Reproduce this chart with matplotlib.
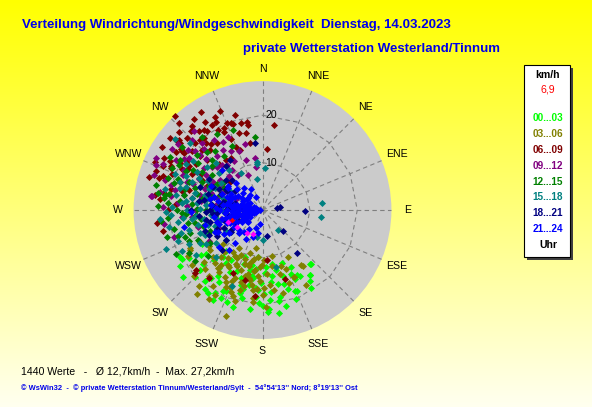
import numpy as np
import matplotlib
matplotlib.use("Agg")
import matplotlib.pyplot as plt
from matplotlib.patches import Circle, Rectangle

plt.rcParams['font.family'] = ['Liberation Sans', 'DejaVu Sans']

# wind direction (deg, from N clockwise) and speed (km/h)
dir_0003 = [239, 230, 216, 209, 205, 177, 166, 158, 144, 139, 160, 184, 196, 208, 217, 224, 188, 174,
            241, 217, 210, 138, 144, 157, 170, 180, 153, 192, 199, 186, 181, 172, 168, 163, 176, 202,
            212, 220, 228, 234, 225, 193, 187, 171, 150, 148, 162, 156, 197, 203, 214, 183, 178, 190,
            195, 206, 222, 175, 200, 185, 170, 246, 236, 240,
            146, 152, 159, 164, 169, 173, 179, 182, 189, 194, 198, 204, 211, 215, 219, 226, 232, 237,
            167, 185, 201, 213, 155, 176, 191]
spd_0003 = [19.9, 22.0, 20.5, 21.6, 20.5, 21.5, 20.9, 18.5, 17.0, 15.2, 11.9, 18.3, 16.4, 14.7, 15.4, 14.8, 14.5, 17.4,
            14.7, 18.0, 20.2, 15.3, 16.9, 18.5, 19.5, 20.2, 13.4, 13.0, 12.0, 12.5, 15.5, 14.0, 16.0, 14.5, 12.0, 17.5,
            12.5, 13.0, 17.0, 16.0, 20.0, 19.0, 21.0, 22.0, 16.0, 19.5, 17.5, 14.8, 21.5, 14.0, 16.8, 17.0, 13.2, 16.0,
            18.2, 19.0, 11.5, 19.0, 10.5, 10.0, 11.5, 12.5, 21.0, 20.0,
            18.0, 15.5, 20.0, 16.2, 18.8, 15.2, 17.8, 19.6, 14.2, 17.2, 15.0, 18.8, 17.8, 13.6, 19.2, 18.2, 15.2, 18.6,
            13.0, 16.5, 20.8, 21.0, 16.0, 21.0, 11.8]

dir_0306 = [189, 199, 218, 211, 242, 244, 241, 155, 150, 145, 151, 144, 155, 185, 192, 198, 204, 210,
            216, 222, 228, 233, 195, 188, 182, 176, 170, 165, 160, 172, 180, 187, 194, 201, 207, 213,
            219, 226, 232, 205, 212, 196, 178, 168, 174, 183, 190, 202, 208, 215, 223, 230, 236, 238,
            197, 186, 178, 162, 158, 166, 193, 200, 209, 220, 188, 184, 203, 243,
            181, 184, 187, 191, 194, 197, 200, 203, 206, 209, 212, 215, 218, 221, 224, 227, 179, 186,
            193, 199, 205, 211, 217, 190, 196]
spd_0306 = [8.2, 23.6, 22.4, 21.8, 17.3, 15.0, 17.5, 15.5, 18.3, 14.2, 11.3, 14.6, 15.6, 10.0, 11.0, 12.0, 13.0, 14.0,
            12.5, 15.0, 16.5, 14.0, 14.5, 13.0, 15.0, 13.5, 12.0, 14.0, 16.5, 17.0, 18.0, 17.0, 16.5, 18.5, 17.0, 19.0,
            18.0, 20.0, 19.0, 10.5, 9.5, 9.5, 10.5, 10.0, 16.0, 12.0, 15.0, 15.5, 11.5, 16.0, 12.0, 11.0, 13.5, 18.5,
            20.0, 19.5, 20.5, 12.5, 13.5, 18.0, 13.8, 11.0, 20.5, 21.0, 16.0, 14.0, 16.3, 14.8,
            11.5, 16.8, 12.8, 14.6, 11.8, 15.8, 13.4, 17.6, 12.6, 16.2, 13.8, 10.8, 15.4, 13.2, 17.4, 14.4, 16.4, 18.6,
            12.2, 19.2, 18.0, 11.4, 14.6, 10.4, 17.6]

dir_0609 = [317, 337, 329, 338, 341, 346, 350, 350, 348, 321, 324, 325, 331, 334, 308, 310, 309, 321,
            320, 304, 306, 306, 294, 298, 295, 290, 289, 288, 283, 289, 299, 312, 319, 317, 324, 329,
            339, 349, 337, 294, 263, 258, 8, 4, 320, 340, 309, 274, 296, 293, 296, 311, 315,
            228, 218, 194, 185, 175, 162, 205, 227,
            300, 305, 315, 285, 280, 300, 310, 326, 333, 343, 313, 302, 278, 270, 286, 297, 318, 328,
            292, 298, 303, 307, 311, 314, 318, 322, 327, 332, 336, 344, 301, 287, 283, 276, 297, 316, 323, 335]
spd_0609 = [27.0, 22.7, 20.8, 19.8, 19.3, 19.0, 18.9, 18.2, 16.6, 21.4, 20.9, 20.3, 19.2, 18.3, 24.8, 22.9, 22.3, 19.5,
            18.4, 22.0, 21.1, 20.6, 23.0, 22.0, 21.2, 23.8, 22.3, 21.4, 19.9, 18.4, 18.0, 15.8, 16.8, 13.4, 13.0, 12.7,
            13.5, 14.3, 14.5, 24.9, 22.5, 21.4, 18.1, 13.0, 23.1, 19.6, 23.4, 18.2, 21.4, 12.8, 14.3, 9.1, 20.0,
            19.0, 18.2, 15.2, 18.3, 10.6, 15.2, 14.6, 19.5,
            20.0, 17.0, 18.0, 16.0, 21.0, 15.0, 19.5, 17.0, 22.0, 17.0, 24.0, 25.0, 23.0, 20.0, 25.0, 19.0, 22.5, 24.5,
            20.5, 23.5, 19.0, 21.5, 17.5, 22.0, 19.8, 17.8, 22.2, 21.0, 16.4, 20.8, 18.2, 22.8, 17.4, 21.8, 16.8, 25.5,
            24.0, 19.0]

dir_0912 = [293, 277, 297, 345, 338, 338, 330, 311, 277, 253, 295, 352, 351, 285, 290, 300, 305, 310,
            315, 320, 325, 330, 300, 290, 280, 275, 270, 265, 260, 285, 295, 305, 315, 325, 280, 288,
            300, 308, 318, 322, 335, 342, 275, 268, 282, 292, 255, 248, 302, 312, 272, 283, 296, 288,
            278, 262, 258, 240,
            273, 279, 284, 287, 291, 294, 298, 303, 306, 309, 313, 316, 319, 323, 327, 332, 286, 299,
            311, 277, 264, 304, 296, 281, 318]
spd_0912 = [24.5, 23.4, 18.7, 14.5, 13.4, 8.0, 16.5, 17.6, 23.6, 19.6, 23.1, 11.1, 9.1, 20.0, 17.0, 16.0, 19.0, 14.0,
            21.0, 15.0, 18.0, 12.0, 12.0, 13.0, 15.0, 18.0, 14.0, 17.0, 12.0, 10.0, 9.0, 11.0, 10.0, 9.0, 22.0, 24.0,
            21.0, 22.5, 19.0, 12.0, 17.0, 11.0, 11.0, 8.0, 7.0, 6.0, 14.0, 10.0, 14.0, 16.0, 21.0, 19.0, 15.0, 11.5,
            13.0, 21.0, 9.0, 13.0,
            16.0, 19.5, 13.5, 21.5, 15.6, 18.4, 12.6, 19.8, 15.2, 20.2, 13.2, 17.8, 22.0, 10.6, 15.2, 14.0, 8.4, 9.8,
            19.0, 9.6, 15.0, 23.0, 25.0, 16.8, 12.8]

dir_1215 = [279, 329, 354, 321, 251, 233, 277, 300, 301, 252, 270, 275, 280, 285, 290, 295, 300, 305,
            310, 315, 320, 265, 260, 255, 245, 240, 285, 290, 270, 263, 280, 295, 308, 272, 266, 258,
            248, 300, 312, 325, 335, 340, 288, 276, 283, 297, 268, 254, 238, 230, 292, 262, 278,
            267, 271, 274, 277, 281, 284, 287, 291, 294, 298, 302, 306, 311, 316, 259, 253, 247, 243,
            264, 279, 289, 299, 306, 271, 283]
spd_1215 = [20.8, 18.6, 15.5, 15.9, 17.3, 17.8, 21.0, 22.5, 20.4, 16.0, 18.0, 15.0, 13.0, 17.0, 19.0, 14.0, 17.0, 13.0,
            18.0, 15.0, 20.0, 20.0, 16.0, 13.0, 15.0, 18.0, 11.0, 9.5, 12.0, 10.0, 20.0, 21.0, 21.5, 22.0, 14.0, 19.0,
            12.0, 11.0, 12.0, 14.0, 15.0, 18.0, 15.0, 17.5, 23.0, 18.0, 17.0, 21.0, 13.0, 15.0, 12.0, 13.0, 9.0,
            16.2, 13.8, 20.0, 11.0, 16.8, 14.2, 19.6, 16.6, 12.4, 20.0, 15.0, 16.8, 14.0, 17.0, 14.4, 18.6, 16.8, 20.5,
            21.5, 22.4, 21.0, 9.4, 10.0, 10.4, 8.4]

dir_1518 = [265, 260, 309, 313, 353, 349, 4, 353, 83, 97, 142, 180, 192, 167, 202, 270, 265, 275,
            280, 285, 290, 295, 300, 305, 310, 260, 255, 250, 245, 240, 235, 245, 250, 255, 268, 278,
            288, 272, 282, 262, 292, 298, 252, 242, 230, 258, 275, 285, 265, 270, 315, 320, 330, 300,
            280, 248, 236, 225, 263, 276, 292,
            246, 251, 254, 257, 261, 264, 267, 271, 274, 277, 281, 284, 287, 291, 294, 297, 303, 308,
            243, 239, 256, 269, 279, 289, 301]
spd_1518 = [21.7, 20.1, 23.8, 20.8, 10.3, 6.6, 8.8, 9.8, 12.7, 12.5, 5.4, 6.3, 5.9, 12.4, 17.4, 16.0, 14.0, 12.0,
            15.0, 18.0, 14.0, 11.0, 16.0, 18.0, 12.0, 10.0, 12.0, 14.0, 11.0, 9.0, 12.0, 17.0, 19.0, 16.0, 10.0, 8.0,
            9.0, 19.0, 21.0, 18.0, 20.0, 13.0, 8.0, 15.0, 10.0, 7.0, 17.0, 12.5, 11.0, 8.5, 14.0, 11.0, 9.0, 8.0,
            18.5, 22.0, 17.0, 14.0, 15.0, 14.0, 16.0,
            13.2, 10.6, 17.8, 14.0, 12.4, 16.8, 19.4, 13.2, 10.6, 16.2, 12.0, 14.6, 16.8, 12.2, 17.6, 15.0, 10.4, 14.8,
            19.0, 14.0, 9.4, 20.4, 7.2, 18.4, 18.8]

dir_1821 = [270, 260, 280, 250, 290, 265, 275, 245, 300, 255, 285, 270, 240, 295, 260, 280, 310, 230,
            250, 300, 275, 265, 320, 327, 354, 79, 82, 91, 169, 136, 141, 235, 225, 285, 262, 305,
            255, 290, 270, 248, 315, 265, 258, 245, 282, 272,
            243, 247, 252, 257, 261, 266, 271, 276, 281, 286, 291, 296, 253, 263, 273, 283, 238, 298,
            268, 278]
spd_1821 = [5.0, 6.0, 6.5, 7.0, 7.5, 8.0, 9.0, 9.0, 9.0, 10.0, 10.5, 11.0, 11.0, 11.5, 12.0, 12.5, 10.0, 10.0,
            13.0, 13.0, 7.0, 13.5, 12.0, 12.6, 14.2, 3.8, 3.0, 9.0, 5.5, 6.1, 11.6, 8.0, 12.0, 6.0, 4.0, 7.0,
            8.5, 14.0, 15.0, 5.5, 9.0, 10.5, 6.5, 12.5, 8.5, 7.5,
            6.4, 10.4, 8.2, 11.4, 7.4, 9.6, 6.2, 10.8, 8.0, 12.0, 9.4, 10.2, 4.6, 5.2, 4.2, 4.6, 7.8, 8.6,
            12.0, 13.6]

dir_2124 = [270, 265, 275, 260, 280, 250, 290, 270, 255, 285, 240, 300, 265, 275, 245, 295, 230, 310,
            260, 280, 250, 290, 235, 305, 270, 255, 285, 225, 320, 215, 300, 240, 262, 278, 268, 248,
            292, 258, 282, 238, 315, 210, 220, 330, 200, 190, 310, 250, 290, 270, 260, 280, 270, 265,
            275, 245, 295, 255, 220, 230, 258, 268, 270, 250, 290, 235, 305, 245, 295, 260, 280, 265,
            275, 255, 285, 300, 240, 270, 230, 310, 220, 320, 200, 190, 335, 314, 244,
            243, 248, 253, 258, 263, 267, 272, 277, 282, 287, 292, 297, 302, 252, 262, 272, 282, 257,
            267, 277]
spd_2124 = [1.0, 2.0, 2.5, 3.0, 3.0, 3.5, 3.5, 4.0, 4.5, 4.5, 5.0, 5.0, 5.5, 6.0, 6.0, 6.5, 6.5, 7.0,
            7.0, 7.5, 8.0, 8.0, 8.5, 9.0, 9.0, 10.0, 10.5, 7.0, 6.0, 5.0, 3.0, 3.0, 4.0, 5.0, 6.5, 7.5,
            7.0, 8.8, 9.5, 9.5, 8.0, 7.0, 9.0, 5.0, 4.0, 3.0, 4.0, 2.0, 2.0, 3.0, 5.0, 6.0, 7.5, 8.0,
            11.0, 11.0, 12.0, 12.5, 11.0, 12.0, 17.0, 15.0, 0.5, 1.5, 1.5, 4.0, 4.0, 4.0, 4.5, 6.0, 4.0, 3.0,
            3.5, 6.5, 7.0, 6.0, 7.0, 5.0, 4.0, 5.5, 6.0, 4.0, 6.0, 5.0, 3.0, 12.0, 10.5,
            4.8, 6.8, 2.6, 7.8, 3.6, 6.2, 1.8, 8.4, 5.4, 3.2, 9.2, 7.4, 8.6, 9.6, 10.4, 9.8, 11.4, 5.6,
            2.4, 6.8]

dir_now = [237, 202, 251, 214]
spd_now = [6.4, 5.4, 7.6, 5.8]
dir_cur = [252]
spd_cur = [6.8]

groups = [
    ("00...03", "#00ff00", dir_0003, spd_0003),
    ("03...06", "#808000", dir_0306, spd_0306),
    ("06...09", "#800000", dir_0609, spd_0609),
    ("09...12", "#800080", dir_0912, spd_0912),
    ("12...15", "#008000", dir_1215, spd_1215),
    ("15...18", "#008080", dir_1518, spd_1518),
    ("18...21", "#000080", dir_1821, spd_1821),
    ("21...24", "#0000ff", dir_2124, spd_2124),
]
compass = ["N", "NNE", "NE", "ENE", "E", "ESE", "SE", "SSE",
           "S", "SSW", "SW", "WSW", "W", "WNW", "NW", "NNW"]
rings = [10, 20]
rmax = 27.2

W, H = 592, 407
fig = plt.figure(figsize=(W / 100, H / 100), dpi=100)

# yellow -> cream vertical gradient
bg = fig.add_axes([0, 0, 1, 1], zorder=-10)
b = np.linspace(0.0, 0.94, 256)
img = np.stack([np.ones_like(b), np.ones_like(b), b], axis=1)[:, None, :]
bg.imshow(img, aspect='auto', extent=[0, 1, 0, 1])
bg.axis('off')

# wind rose axes (centre at 262.5/210 px, 4.74 px per km/h)
cx, cy, scale, R = 262.5, 210, 4.74, 34
hw = R * scale
ax = fig.add_axes([(cx - hw) / W, (H - cy - hw) / H, 2 * hw / W, 2 * hw / H])
ax.set_xlim(-R, R)
ax.set_ylim(-R, R)
ax.axis('off')

ax.add_patch(Circle((0, 0), rmax, facecolor='#cbcbcb', edgecolor='none', zorder=1))

ang = np.radians(np.arange(16) * 22.5)
for a in ang:
    ax.plot([0, rmax * np.sin(a)], [0, rmax * np.cos(a)], color='#7f7f7f',
            lw=0.8, ls=(0, (4, 3)), zorder=2)
for r in rings:
    aa = np.append(ang, ang[0])
    ax.plot(r * np.sin(aa), r * np.cos(aa), color='#7f7f7f', lw=0.8, ls=(0, (4, 3)), zorder=2)
    ax.text(1.9, r, str(r), ha='center', va='center', fontsize=7.6, zorder=5)

for a, name in zip(ang, compass):
    rr = 30.6
    if name in ("N", "S"):
        rr = 29.8
    ax.text(rr * np.sin(a), rr * np.cos(a), name, ha='center', va='center', fontsize=7.6)

def to_xy(d, s):
    d = np.radians(np.asarray(d, dtype=float))
    s = np.asarray(s, dtype=float)
    return s * np.sin(d), s * np.cos(d)

for label, col, d, s in groups:
    x, y = to_xy(d, s)
    ax.scatter(x, y, marker='D', s=13, color=col, linewidths=0, zorder=3)
x, y = to_xy(dir_now, spd_now)
ax.scatter(x, y, marker='D', s=10, color='#ff00ff', linewidths=0, zorder=4)
x, y = to_xy(dir_cur, spd_cur)
ax.scatter(x, y, marker='D', s=8, color='#ff0000', linewidths=0, zorder=4)

# titles
blue = '#0000e8'
fig.text(22 / W, 1 - 25 / H, "Verteilung Windrichtung/Windgeschwindigkeit  Dienstag, 14.03.2023",
         color=blue, fontsize=9.5, fontweight='bold', va='center')
fig.text(243 / W, 1 - 49 / H, "private Wetterstation Westerland/Tinnum",
         color=blue, fontsize=9.5, fontweight='bold', va='center')

# legend box
bx0, by0, bx1, by1 = 524, 65, 570, 257
fig.add_artist(Rectangle(((bx0 + 3) / W, (H - by1 - 3) / H), (bx1 - bx0) / W, (by1 - by0) / H,
                         transform=fig.transFigure, facecolor='#404040', edgecolor='none'))
fig.add_artist(Rectangle((bx0 / W, (H - by1) / H), (bx1 - bx0) / W, (by1 - by0) / H,
                         transform=fig.transFigure, facecolor='white', edgecolor='black', lw=0.8))
lx = 548 / W
fig.text(lx, 1 - 75 / H, "km/h", ha='center', va='center', fontsize=7.6, fontweight='bold')
fig.text(lx, 1 - 90 / H, "6,9", ha='center', va='center', fontsize=7.6, color='red')
for i, (label, col, d, s) in enumerate(groups):
    fig.text(lx, 1 - (118 + i * 15.9) / H, label, ha='center', va='center', fontsize=7.2,
             fontweight='bold', color=col)
fig.text(lx, 1 - 245 / H, "Uhr", ha='center', va='center', fontsize=7.6, fontweight='bold')

# footer
fig.text(21 / W, 1 - 371 / H, "1440 Werte   -   \u00d8 12,7km/h  -  Max. 27,2km/h",
         fontsize=7.6, va='center')
fig.text(21 / W, 1 - 388 / H,
         "\u00a9 WsWin32  -  \u00a9 private Wetterstation Tinnum/Westerland/Sylt  -  54\u00b054'13'' Nord; 8\u00b019'13'' Ost",
         fontsize=5.4, color=blue, fontweight='bold', va='center')

fig.savefig("out.png", dpi=100)
